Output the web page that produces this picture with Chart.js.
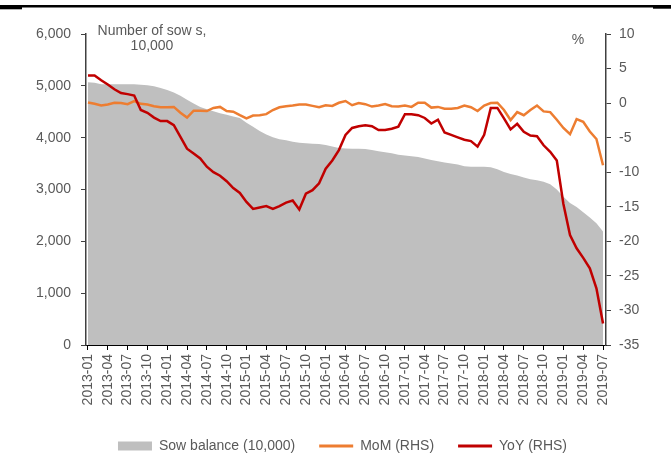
<!DOCTYPE html>
<html>
<head>
<meta charset="utf-8">
<script src="https://cdn.jsdelivr.net/npm/chart.js@4/dist/chart.umd.min.js"></script>
<style>
html, body { margin: 0; padding: 0; background: #fff; }
#wrap { width: 671px; height: 457px; }
</style>
</head>
<body>
<div id="wrap"><canvas id="sowChart" width="671" height="457"></canvas></div>
<script>
// month labels, 2013-01 .. 2019-07
var months = [
    "2013-01", "2013-02", "2013-03", "2013-04", "2013-05", "2013-06", "2013-07", "2013-08", "2013-09", "2013-10", "2013-11", "2013-12",
    "2014-01", "2014-02", "2014-03", "2014-04", "2014-05", "2014-06", "2014-07", "2014-08", "2014-09", "2014-10", "2014-11", "2014-12",
    "2015-01", "2015-02", "2015-03", "2015-04", "2015-05", "2015-06", "2015-07", "2015-08", "2015-09", "2015-10", "2015-11", "2015-12",
    "2016-01", "2016-02", "2016-03", "2016-04", "2016-05", "2016-06", "2016-07", "2016-08", "2016-09", "2016-10", "2016-11", "2016-12",
    "2017-01", "2017-02", "2017-03", "2017-04", "2017-05", "2017-06", "2017-07", "2017-08", "2017-09", "2017-10", "2017-11", "2017-12",
    "2018-01", "2018-02", "2018-03", "2018-04", "2018-05", "2018-06", "2018-07", "2018-08", "2018-09", "2018-10", "2018-11", "2018-12",
    "2019-01", "2019-02", "2019-03", "2019-04", "2019-05", "2019-06", "2019-07"
];

// sow balance, 10,000 head (LHS)
var sowBalance = [
    5070, 5060, 5030, 5030, 5030, 5030, 5030, 5030, 5020, 5010,
    4990, 4960, 4920, 4870, 4810, 4730, 4660, 4590, 4550, 4510,
    4470, 4440, 4410, 4380, 4290, 4210, 4130, 4060, 4010, 3970,
    3950, 3920, 3900, 3890, 3885, 3880, 3860, 3830, 3800, 3790,
    3785, 3785, 3780, 3760, 3740, 3720, 3700, 3670, 3655, 3640,
    3625, 3600, 3570, 3545, 3520, 3500, 3480, 3450, 3440, 3440,
    3440, 3430, 3390, 3340, 3300, 3270, 3230, 3200, 3180, 3150,
    3100, 3000, 2860, 2740, 2660, 2560, 2460, 2350, 2190
];

// month on month change, % (RHS)
var mom = [
    0.1, -0.1, -0.35, -0.2, 0.05, 0, -0.15, 0.3, -0.1, -0.2,
    -0.45, -0.6, -0.6, -0.55, -1.4, -2.1, -1.1, -1.1, -1.15, -0.7,
    -0.55, -1.15, -1.25, -1.75, -2.2, -1.8, -1.75, -1.6, -1.0, -0.6,
    -0.45, -0.35, -0.2, -0.2, -0.4, -0.6, -0.3, -0.4, 0.05, 0.3,
    -0.3, 0, -0.15, -0.5, -0.35, -0.15, -0.45, -0.5, -0.35, -0.55,
    0.05, 0.05, -0.65, -0.55, -0.8, -0.8, -0.7, -0.35, -0.6, -1.15,
    -0.35, 0, 0.05, -1.0, -2.45, -1.3, -1.75, -1.0, -0.35, -1.2,
    -1.3, -2.4, -3.6, -4.5, -2.3, -2.7, -4.1, -5.2, -9.0
];

// year on year change, % (RHS)
var yoy = [
    4.0, 4.0, 3.3, 2.7, 2.0, 1.45, 1.3, 1.1, -1.0, -1.4,
    -2.1, -2.6, -2.6, -3.2, -4.9, -6.6, -7.3, -8.0, -9.2, -10.0,
    -10.5, -11.3, -12.3, -13.0, -14.3, -15.3, -15.1, -14.9, -15.3, -14.9,
    -14.4, -14.1, -15.4, -13.1, -12.6, -11.6, -9.5, -8.3, -6.8, -4.6,
    -3.6, -3.35, -3.2, -3.35, -3.9, -3.9, -3.7, -3.4, -1.6, -1.6,
    -1.75, -2.15, -2.95, -2.4, -4.25, -4.6, -4.95, -5.3, -5.5, -6.3,
    -4.6, -0.7, -0.7, -2.2, -3.8, -3.0, -4.15, -4.7, -4.8, -6.1,
    -7.05, -8.3, -14.6, -19.1, -21.0, -22.4, -23.9, -26.8, -31.9
];

var leftTicks = [0, 1000, 2000, 3000, 4000, 5000, 6000];
var rightTicks = [-35, -30, -25, -20, -15, -10, -5, 0, 5, 10];

var FONT = '"Liberation Sans", Arial, sans-serif';
var GREY_TEXT = '#595959';

function toPoints(arr) {
    return arr.map(function (v, i) { return { x: i, y: v }; });
}

// keep legend close to the bottom edge, nudged a bit right
var legendHeightFix = {
    id: 'legendHeightFix',
    beforeLayout: function (chart) {
        var lg = chart.legend;
        if (lg && !lg._fitPatched) {
            var orig = lg.fit;
            lg.fit = function () { orig.call(this); this.height = 42; };
            lg._fitPatched = true;
        }
    },
    afterLayout: function (chart) {
        if (chart.legend) {
            chart.legend.left += 7;
            chart.legend.right += 7;
        }
    }
};

// header rule and axis notes
var chartNotes = {
    id: 'chartNotes',
    afterDraw: function (chart) {
        var c = chart.ctx;
        c.save();
        c.fillStyle = '#000';
        c.fillRect(0, 5, 671, 2.5);
        c.fillRect(0, 5, 22, 4.3);
        c.fillRect(653, 5, 18, 3.7);
        c.font = '14px ' + FONT;
        c.fillStyle = GREY_TEXT;
        c.textAlign = 'center';
        c.textBaseline = 'middle';
        c.fillText('Number of sow s,', 152, 31);
        c.fillText('10,000', 152, 46);
        c.fillText('%', 578, 40);
        c.restore();
    }
};

var ctx = document.getElementById('sowChart').getContext('2d');
var chart = new Chart(ctx, {
    type: 'line',
    data: {
        datasets: [{
            label: 'Sow balance (10,000)',
            data: toPoints(sowBalance),
            yAxisID: 'y',
            fill: 'origin',
            backgroundColor: '#bfbfbf',
            borderColor: 'rgba(0,0,0,0)',
            borderWidth: 0,
            pointRadius: 0,
            tension: 0,
            order: 3
        }, {
            label: 'MoM (RHS)',
            data: toPoints(mom),
            yAxisID: 'y2',
            fill: false,
            borderColor: '#ed7d31',
            borderWidth: 2.5,
            pointRadius: 0,
            tension: 0,
            order: 2
        }, {
            label: 'YoY (RHS)',
            data: toPoints(yoy),
            yAxisID: 'y2',
            fill: false,
            borderColor: '#c00000',
            borderWidth: 2.5,
            pointRadius: 0,
            tension: 0,
            order: 1
        }]
    },
    options: {
        responsive: false,
        animation: false,
        devicePixelRatio: 1,
        layout: { padding: { top: 34, left: 0, right: 0, bottom: 0 } },
        plugins: {
            tooltip: { enabled: false },
            legend: {
                position: 'bottom',
                labels: {
                    usePointStyle: true,
                    pointStyleWidth: 34,
                    boxHeight: 9,
                    padding: 24,
                    color: GREY_TEXT,
                    font: { family: FONT, size: 14 },
                    generateLabels: function () {
                        return [
                            { text: 'Sow balance (10,000)', fillStyle: '#bfbfbf', strokeStyle: '#bfbfbf', lineWidth: 0, pointStyle: 'rect', hidden: false, datasetIndex: 0, fontColor: GREY_TEXT },
                            { text: 'MoM (RHS)', fillStyle: '#ed7d31', strokeStyle: '#ed7d31', lineWidth: 3, pointStyle: 'line', hidden: false, datasetIndex: 1, fontColor: GREY_TEXT },
                            { text: 'YoY (RHS)', fillStyle: '#c00000', strokeStyle: '#c00000', lineWidth: 3, pointStyle: 'line', hidden: false, datasetIndex: 2, fontColor: GREY_TEXT }
                        ];
                    }
                }
            }
        },
        scales: {
            x: {
                type: 'linear',
                min: -0.3,
                max: 78.45,
                afterBuildTicks: function (axis) {
                    axis.ticks = months.map(function (m, i) { return { value: i }; })
                        .filter(function (t) { return t.value % 3 === 0; });
                },
                afterFit: function (axis) { axis.height = 70; },
                ticks: {
                    autoSkip: false,
                    minRotation: 90,
                    maxRotation: 90,
                    padding: 4,
                    color: GREY_TEXT,
                    font: { family: FONT, size: 14 },
                    callback: function (v) { return months[v]; }
                },
                grid: { drawOnChartArea: false, drawTicks: true, tickLength: 5, color: '#000' },
                border: { display: true, color: '#000', width: 1 }
            },
            y: {
                position: 'left',
                min: 0,
                max: 6000,
                afterBuildTicks: function (axis) {
                    axis.ticks = leftTicks.map(function (v) { return { value: v }; });
                },
                afterFit: function (axis) { axis.width = 86; },
                ticks: {
                    padding: 10,
                    color: GREY_TEXT,
                    font: { family: FONT, size: 14 },
                    callback: function (v) { return v.toLocaleString('en-US'); }
                },
                grid: { drawOnChartArea: false, drawTicks: true, tickLength: 5, color: '#404040' },
                border: { display: true, color: '#404040', width: 1.5 }
            },
            y2: {
                position: 'right',
                min: -35,
                max: 10,
                afterBuildTicks: function (axis) {
                    axis.ticks = rightTicks.map(function (v) { return { value: v }; });
                },
                afterFit: function (axis) { axis.width = 65; },
                ticks: {
                    padding: 8,
                    color: GREY_TEXT,
                    font: { family: FONT, size: 14 }
                },
                grid: { drawOnChartArea: false, drawTicks: true, tickLength: 5, color: '#404040' },
                border: { display: true, color: '#404040', width: 1.5 }
            }
        }
    },
    plugins: [legendHeightFix, chartNotes]
});
</script>
</body>
</html>
